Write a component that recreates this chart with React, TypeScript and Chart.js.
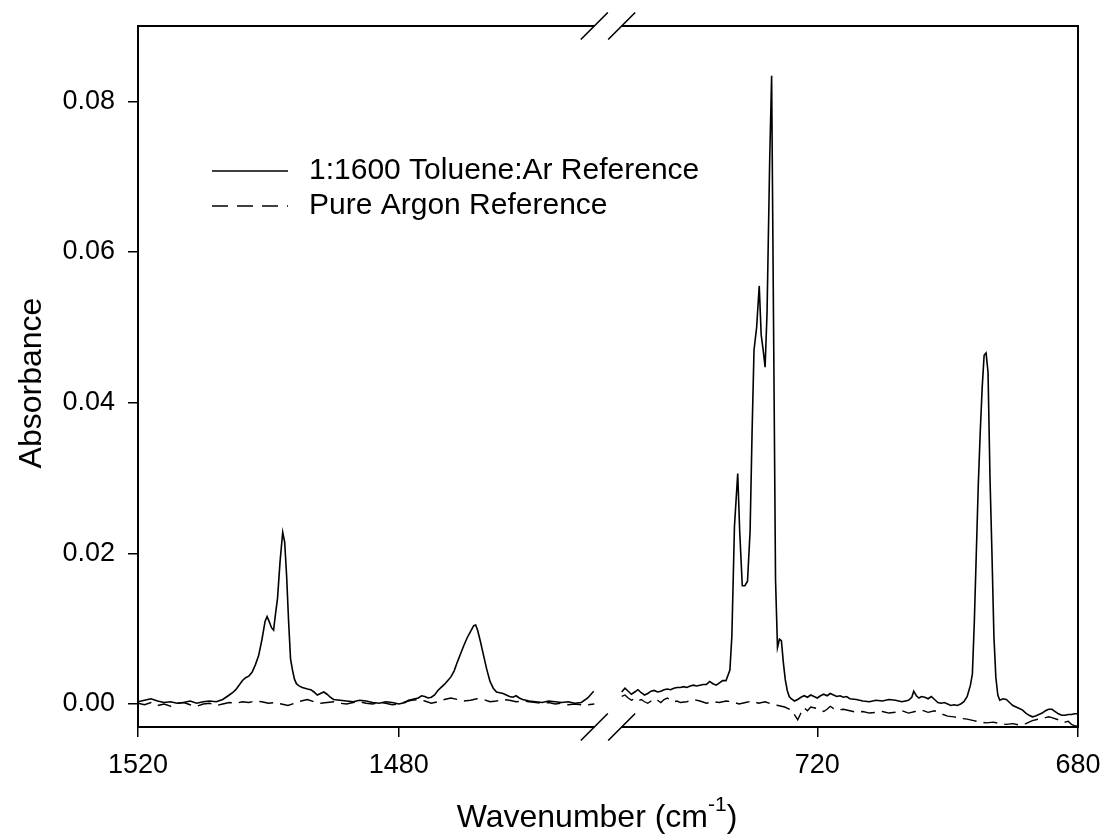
import { useEffect, useRef } from "react";
import { Chart, registerables } from "chart.js";

Chart.register(...registerables);

// Broken wavenumber axis: a high-frequency window and a low-frequency window.
const HIGH_WINDOW = [1520, 1450];
const LOW_WINDOW = [750, 680];
const BREAK_GAP = 4.2; // axis units left blank between the two windows

const xTickWavenumbers = [1520, 1480, 720, 680];
const yTickValues = [0, 0.02, 0.04, 0.06, 0.08];
const Y_MIN = -0.00305;
const Y_MAX = 0.09;

const legendLabels = ["1:1600 Toluene:Ar Reference", "Pure Argon Reference"];
const xTitle = "Wavenumber (cm";
const xTitleSup = "-1";
const yTitle = "Absorbance";

// 1:1600 Toluene:Ar, 1520–1450 cm-1
const tolueneHighWn = [
  1520.0, 1519.0, 1518.0, 1517.0, 1516.0, 1515.0, 1514.0, 1513.0, 1512.0, 1511.0,
  1510.0, 1509.0, 1508.0, 1507.0, 1506.5, 1506.0, 1505.5, 1505.0, 1504.5, 1504.0,
  1503.5, 1503.0, 1502.5, 1502.0, 1501.5, 1501.0, 1500.5, 1500.2, 1499.9, 1499.5,
  1499.2, 1498.9, 1498.6, 1498.2, 1497.8, 1497.5, 1497.2, 1496.9, 1496.6, 1496.3,
  1496.0, 1495.7, 1495.3, 1494.8, 1494.0, 1493.5, 1493.0, 1492.5, 1492.0, 1491.5,
  1491.0, 1490.5, 1490.0, 1489.0, 1488.0, 1487.0, 1486.0, 1485.0, 1484.0, 1483.0,
  1482.0, 1481.0, 1480.0, 1479.0, 1478.5, 1478.0, 1477.0, 1476.5, 1476.0, 1475.5,
  1475.0, 1474.5, 1474.0, 1473.5, 1473.0, 1472.5, 1472.0, 1471.5, 1471.0, 1470.5,
  1470.0, 1469.5, 1469.0, 1468.5, 1468.2, 1467.9, 1467.5, 1467.0, 1466.5, 1466.0,
  1465.5, 1465.0, 1464.5, 1464.0, 1463.5, 1463.0, 1462.5, 1462.0, 1461.5, 1461.0,
  1460.0, 1459.0, 1458.0, 1457.0, 1456.0, 1455.0, 1454.0, 1453.0, 1452.0, 1451.0,
  1450.1,
];
const tolueneHighAbs = [
  0.0003, 0.0005, 0.0007, 0.0004, 0.0002, 0.0003, 0.0001, 0.0002, 0.0004, 0.0001,
  0.0003, 0.0004, 0.0003, 0.0006, 0.0009, 0.0012, 0.0015, 0.0019, 0.0025, 0.0031,
  0.0035, 0.0037, 0.0042, 0.0052, 0.0064, 0.0085, 0.011, 0.0116, 0.011, 0.0101,
  0.0098, 0.012, 0.014, 0.019, 0.0228, 0.0215, 0.017, 0.011, 0.006, 0.0045,
  0.0033, 0.0027, 0.0024, 0.0022, 0.002, 0.0019, 0.0016, 0.0012, 0.0014, 0.0016,
  0.0013, 0.0009, 0.0006, 0.0005, 0.0004, 0.0003, 0.0005, 0.0004, 0.0002, 0.0001,
  0.0003, 0.0002, 0.0, 0.0002, 0.0005, 0.0006, 0.0008, 0.0011, 0.001, 0.0008,
  0.0009, 0.0012, 0.0018, 0.0022, 0.0026, 0.0031, 0.0036, 0.0044, 0.0056, 0.0067,
  0.0078, 0.0088, 0.0096, 0.0104, 0.0105, 0.0098, 0.0084, 0.0065, 0.0046, 0.003,
  0.0021, 0.0016, 0.0015, 0.0014, 0.0012, 0.001, 0.0009, 0.0011, 0.0008, 0.0006,
  0.0004, 0.0003, 0.0002, 0.0004, 0.0003, 0.0002, 0.0003, 0.0001, 0.0002, 0.0008,
  0.0017,
];

// 1:1600 Toluene:Ar, 750–680 cm-1
const tolueneLowWn = [
  750.0, 749.5, 749.0, 748.5, 748.0, 747.5, 747.0, 746.5, 746.0, 745.5,
  745.0, 744.5, 744.0, 743.5, 743.0, 742.5, 742.0, 741.5, 741.0, 740.5,
  740.0, 739.5, 739.0, 738.5, 738.0, 737.5, 737.0, 736.5, 736.0, 735.5,
  735.0, 734.5, 734.0, 733.4, 733.1, 732.7, 732.2, 731.9, 731.5, 731.1,
  730.7, 730.3, 730.0, 729.7, 729.3, 728.9, 728.6, 728.3, 728.0, 727.7,
  727.3, 727.0, 726.7, 726.4, 726.1, 725.8, 725.5, 725.2, 724.9, 724.6,
  724.3, 724.0, 723.5, 723.0, 722.5, 722.0, 721.5, 721.0, 720.5,
  720.0, 719.5, 719.0, 718.5, 718.0, 717.5, 717.0, 716.5, 716.0, 715.5,
  715.0, 714.0, 713.0, 712.0, 711.0, 710.0, 709.0, 708.0, 707.0, 706.0,
  705.5, 705.2, 704.8, 704.4, 704.0, 703.5, 703.0, 702.5, 702.0, 701.5,
  701.0, 700.5, 700.0, 699.5, 699.0, 698.5, 698.0, 697.5, 697.0, 696.5,
  696.2, 695.9, 695.6, 695.3, 695.0, 694.7, 694.4, 694.1, 693.8, 693.5,
  693.2, 692.9, 692.6, 692.3, 692.0, 691.5, 691.0, 690.5, 690.0, 689.5,
  689.0, 688.5, 688.0, 687.5, 687.0, 686.5, 686.0, 685.5, 685.0, 684.5,
  684.0, 683.5, 683.0, 682.5, 682.0, 681.5, 681.0, 680.5, 680.0,
];
const tolueneLowAbs = [
  0.0016, 0.0021, 0.0017, 0.0013, 0.0016, 0.0019, 0.0015, 0.0012, 0.0014, 0.0017,
  0.0018, 0.0016, 0.0017, 0.0019, 0.002, 0.0019, 0.0021, 0.0022, 0.0022, 0.0023,
  0.0022, 0.0024, 0.0025, 0.0024, 0.0025, 0.0026, 0.0026, 0.003, 0.0027, 0.0025,
  0.0028, 0.0031, 0.0031, 0.0045, 0.009, 0.0236, 0.0306, 0.023, 0.0157, 0.0157,
  0.0163, 0.023, 0.036, 0.047, 0.05, 0.0555, 0.049, 0.047, 0.0447, 0.052,
  0.072, 0.0834, 0.05, 0.0165, 0.0075, 0.0086, 0.0084, 0.0055, 0.0032, 0.0018,
  0.001, 0.0007, 0.0004, 0.0006, 0.0009, 0.0011, 0.0009, 0.0012, 0.001,
  0.0008, 0.0011, 0.0013, 0.0011, 0.0014, 0.0012, 0.001, 0.0011, 0.0009, 0.001,
  0.0007, 0.0006, 0.0004, 0.0003, 0.0005, 0.0004, 0.0006, 0.0005, 0.0003, 0.0005,
  0.0009, 0.0017, 0.0011, 0.0008, 0.001, 0.0009, 0.0007, 0.001, 0.0006, 0.0002,
  0.0001, 0.0002, 0.0, -0.0002, -0.0001, -0.0002, 0.0, 0.0003, 0.001, 0.0025,
  0.004, 0.011, 0.02, 0.029, 0.036, 0.042, 0.0463, 0.0466, 0.044, 0.03,
  0.02, 0.009, 0.0035, 0.0012, 0.0005, 0.0007, 0.0006, 0.0002, -0.0002, -0.0004,
  -0.0006, -0.0008, -0.0012, -0.0015, -0.0017, -0.0016, -0.0014, -0.0012, -0.0009, -0.0007,
  -0.0007, -0.001, -0.0013, -0.0015, -0.0015, -0.0014, -0.0014, -0.0013, -0.0013,
];

// Pure argon, 1520–1450 cm-1
const argonHighWn = [
  1520, 1519, 1518, 1517, 1516, 1515, 1514, 1513, 1512, 1511,
  1510, 1509, 1508, 1507, 1506, 1505, 1504, 1503, 1502, 1501,
  1500, 1499, 1498, 1497, 1496, 1495, 1494, 1493, 1492, 1491,
  1490, 1489, 1488, 1487, 1486, 1485, 1484, 1483, 1482, 1481,
  1480, 1479, 1478, 1477, 1476, 1475, 1474, 1473, 1472, 1471,
  1470, 1469, 1468, 1467, 1466, 1465, 1464, 1463, 1462, 1461,
  1460, 1459, 1458, 1457, 1456, 1455, 1454, 1453, 1452, 1451,
  1450,
];
const argonHighAbs = [
  0.0001, -0.0001, 0.0002, -0.0002, 0.0, -0.0003, 0.0001, 0.0002, -0.0001, -0.0003,
  0.0, 0.0001, -0.0002, 0.0, 0.0002, 0.0001, 0.0003, 0.0002, 0.0004, 0.0003,
  0.0001, 0.0002, 0.0, -0.0002, 0.0001, 0.0004, 0.0006, 0.0003, 0.0001, 0.0002,
  0.0003, 0.0001, 0.0, 0.0002, 0.0003, 0.0001, 0.0, 0.0002, 0.0001, -0.0001,
  0.0, 0.0003, 0.0005, 0.0006, 0.0004, 0.0001, 0.0003, 0.0006, 0.0008, 0.0006,
  0.0004, 0.0005, 0.0007, 0.0006, 0.0003, 0.0004, 0.0006, 0.0005, 0.0003, 0.0004,
  0.0003, 0.0002, 0.0001, 0.0002, 0.0, 0.0001, -0.0001, 0.0, -0.0001, -0.0001,
  0.0,
];

// Pure argon, 750–680 cm-1
const argonLowWn = [
  750.0, 749.5, 749.0, 748.5, 748.0, 747.5, 747.0, 746.5, 746.0, 745.5,
  745.0, 744.5, 744.0, 743.5, 743.0, 742.5, 742.0, 741.5, 741.0, 740.0,
  739.0, 738.0, 737.0, 736.0, 735.0, 734.0, 733.0, 732.0, 731.0, 730.0,
  729.0, 728.0, 727.0, 726.0, 725.0, 724.0, 723.5, 723.0, 722.5, 722.0,
  721.5, 721.0, 720.0, 719.0, 718.5, 718.0, 717.5, 717.0, 716.0, 715.0,
  714.0, 713.0, 712.0, 711.0, 710.0, 709.0, 708.0, 707.0, 706.0, 705.0,
  704.0, 703.0, 702.0, 701.0, 700.0, 699.0, 698.0, 697.0, 696.0, 695.0,
  694.0, 693.0, 692.0, 691.0, 690.0, 689.0, 688.0, 687.0, 686.0, 685.0,
  684.5, 684.0, 683.0, 682.5, 682.0, 681.5, 681.0, 680.5, 680.0,
];
const argonLowAbs = [
  0.001, 0.0012, 0.0008, 0.0005, 0.0007, 0.0004, 0.0006, 0.0003, 0.0001, 0.0004,
  0.0007, 0.0005, 0.0002, 0.0006, 0.0008, 0.0005, 0.0003, 0.0004, 0.0002, 0.0003,
  0.0006, 0.0004, 0.0001, 0.0003, 0.0002, 0.0004, 0.0003, 0.0, 0.0002, 0.0004,
  0.0001, 0.0003, 0.0, -0.0002, -0.0004, -0.0008, -0.0014, -0.0021, -0.0012, -0.0005,
  -0.0009, -0.0004, -0.0006, -0.001, -0.0007, -0.0003, -0.0006, -0.0008, -0.0007, -0.0009,
  -0.0011, -0.001, -0.0012, -0.0011, -0.001, -0.0012, -0.0011, -0.0009, -0.0012, -0.001,
  -0.0008, -0.0011, -0.0009, -0.0013, -0.0016, -0.0017, -0.0019, -0.002, -0.0022, -0.0024,
  -0.0025, -0.0024, -0.0026, -0.0027, -0.0026, -0.0028, -0.0026, -0.0022, -0.002, -0.0018,
  -0.0017, -0.0018, -0.0021, -0.0024, -0.0024, -0.0023, -0.0027, -0.0029, -0.0029,
];

const FONT = "'Liberation Sans', Arial, Helvetica, sans-serif";
const HIGH_SPAN = HIGH_WINDOW[0] - HIGH_WINDOW[1];
const LOW_SPAN = LOW_WINDOW[0] - LOW_WINDOW[1];
const AXIS_MAX = HIGH_SPAN + BREAK_GAP + LOW_SPAN;

// Wavenumber -> position on the broken axis (decreasing wavenumber to the right)
function toAxis(wn: number): number {
  if (wn > (HIGH_WINDOW[1] + LOW_WINDOW[0]) / 2) return HIGH_WINDOW[0] - wn;
  return HIGH_SPAN + BREAK_GAP + (LOW_WINDOW[0] - wn);
}
function fromAxis(u: number): number {
  if (u <= HIGH_SPAN + BREAK_GAP / 2) return HIGH_WINDOW[0] - u;
  return LOW_WINDOW[0] - (u - HIGH_SPAN - BREAK_GAP);
}

function series(wn: number[], abs: number[]) {
  return wn.map((w, i) => ({ x: toAxis(w), y: abs[i] }));
}

const frameAndLabels = {
  id: "frameAndLabels",
  afterDraw(chart: any) {
    const { ctx, chartArea, scales } = chart;
    const { left, right, top, bottom } = chartArea;
    const xs = scales.x;
    const b1 = xs.getPixelForValue(HIGH_SPAN);
    const b2 = xs.getPixelForValue(HIGH_SPAN + BREAK_GAP);

    ctx.save();
    ctx.strokeStyle = "#000";
    ctx.lineWidth = 2;
    ctx.lineCap = "butt";
    ctx.beginPath();
    ctx.moveTo(left, top - 1);
    ctx.lineTo(left, bottom + 1);
    ctx.moveTo(right, top - 1);
    ctx.lineTo(right, bottom + 1);
    for (const y of [top, bottom]) {
      ctx.moveTo(left, y);
      ctx.lineTo(b1, y);
      ctx.moveTo(b2, y);
      ctx.lineTo(right, y);
    }
    ctx.stroke();

    // break marks
    ctx.lineWidth = 1.6;
    ctx.beginPath();
    const d = 13.5;
    for (const y of [top, bottom]) {
      for (const bx of [b1, b2]) {
        ctx.moveTo(bx - d, y + d);
        ctx.lineTo(bx + d, y - d);
      }
    }
    ctx.stroke();

    // legend
    ctx.fillStyle = "#000";
    ctx.font = `30px ${FONT}`;
    ctx.textBaseline = "middle";
    ctx.textAlign = "left";
    const legendRows = [171, 206];
    ctx.lineWidth = 1.4;
    ctx.beginPath();
    ctx.moveTo(212, legendRows[0]);
    ctx.lineTo(288, legendRows[0]);
    ctx.stroke();
    ctx.setLineDash([16, 9]);
    ctx.beginPath();
    ctx.moveTo(212, legendRows[1]);
    ctx.lineTo(288, legendRows[1]);
    ctx.stroke();
    ctx.setLineDash([]);
    ctx.fillText(legendLabels[0], 309, legendRows[0]);
    ctx.fillText(legendLabels[1], 309, legendRows[1]);

    // y title
    ctx.save();
    ctx.translate(32, 383);
    ctx.rotate(-Math.PI / 2);
    ctx.textAlign = "center";
    ctx.font = `32px ${FONT}`;
    ctx.fillText(yTitle, 0, 0);
    ctx.restore();

    // x title with superscript
    ctx.font = `32px ${FONT}`;
    const wMain = ctx.measureText(xTitle).width;
    const wClose = ctx.measureText(")").width;
    ctx.font = `21px ${FONT}`;
    const wSup = ctx.measureText(xTitleSup).width;
    const total = wMain + wSup + wClose;
    const cx = 597;
    let x = cx - total / 2;
    const ty = 818;
    ctx.textAlign = "left";
    ctx.font = `32px ${FONT}`;
    ctx.fillText(xTitle, x, ty);
    x += wMain;
    ctx.font = `21px ${FONT}`;
    ctx.fillText(xTitleSup, x, ty - 13);
    x += wSup;
    ctx.font = `32px ${FONT}`;
    ctx.fillText(")", x, ty);
    ctx.restore();
  },
};

export default function App() {
  const canvasRef = useRef<HTMLCanvasElement | null>(null);

  useEffect(() => {
    if (!canvasRef.current) return;
    const solid = { borderColor: "#000", borderWidth: 1.6, pointRadius: 0, tension: 0, fill: false };
    const dashed = { ...solid, borderWidth: 1.4, borderDash: [14, 7] };
    const chart = new Chart(canvasRef.current, {
      type: "line",
      data: {
        datasets: [
          { label: legendLabels[0], data: series(tolueneHighWn, tolueneHighAbs), ...solid },
          { label: legendLabels[0], data: series(tolueneLowWn, tolueneLowAbs), ...solid },
          { label: legendLabels[1], data: series(argonHighWn, argonHighAbs), ...dashed },
          { label: legendLabels[1], data: series(argonLowWn, argonLowAbs), ...dashed },
        ],
      },
      options: {
        animation: false,
        responsive: false,
        devicePixelRatio: 1,
        layout: { padding: { top: 26, right: 27, left: 0, bottom: 0 } },
        plugins: { legend: { display: false }, tooltip: { enabled: false } },
        scales: {
          x: {
            type: "linear",
            min: 0,
            max: AXIS_MAX,
            border: { display: false },
            grid: { drawOnChartArea: false, drawTicks: true, tickLength: 10, color: "#000", lineWidth: 1.5 },
            afterBuildTicks: (scale: any) => {
              scale.ticks = xTickWavenumbers.map((w) => ({ value: toAxis(w) }));
            },
            afterFit: (scale: any) => {
              scale.height = 112;
              scale.paddingLeft = 0;
              scale.paddingRight = 0;
            },
            ticks: {
              autoSkip: false,
              maxRotation: 0,
              padding: 12,
              color: "#000",
              font: { family: FONT, size: 27 },
              callback: (v: any) => String(Math.round(fromAxis(Number(v)))),
            },
          },
          y: {
            type: "linear",
            min: Y_MIN,
            max: Y_MAX,
            border: { display: false },
            grid: { drawOnChartArea: false, drawTicks: true, tickLength: 10, color: "#000", lineWidth: 1.5 },
            afterBuildTicks: (scale: any) => {
              scale.ticks = yTickValues.map((v) => ({ value: v }));
            },
            afterFit: (scale: any) => {
              scale.width = 138;
              scale.paddingTop = 0;
              scale.paddingBottom = 0;
            },
            ticks: {
              padding: 13,
              color: "#000",
              font: { family: FONT, size: 27 },
              callback: (v: any) => Number(v).toFixed(2),
            },
          },
        },
      },
      plugins: [frameAndLabels],
    });
    return () => chart.destroy();
  }, []);

  return (
    <div style={{ position: "absolute", left: 0, top: 0, width: 1105, height: 839, background: "#fff" }}>
      <canvas ref={canvasRef} width={1105} height={839} />
    </div>
  );
}
